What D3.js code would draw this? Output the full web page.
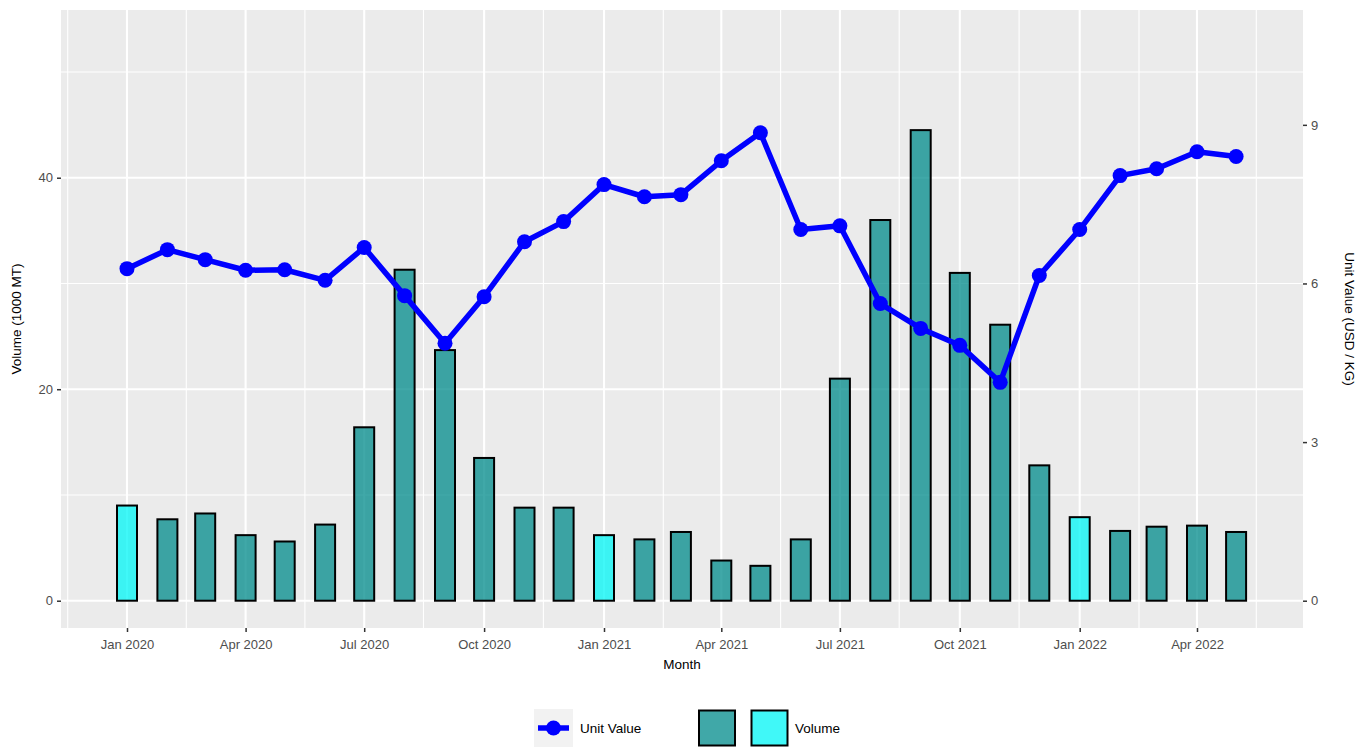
<!DOCTYPE html>
<html><head><meta charset="utf-8">
<script src="https://cdn.jsdelivr.net/npm/d3@7"></script>
<style>body{margin:0;background:#fff;font-family:"Liberation Sans",Arial,sans-serif;}</style>
</head><body>
<svg id="chart" width="1369" height="747"></svg>
<script>
const months = ["2020-01","2020-02","2020-03","2020-04","2020-05","2020-06","2020-07","2020-08","2020-09","2020-10","2020-11","2020-12",
"2021-01","2021-02","2021-03","2021-04","2021-05","2021-06","2021-07","2021-08","2021-09","2021-10","2021-11","2021-12",
"2022-01","2022-02","2022-03","2022-04","2022-05"];
const volume = [9.0,7.7,8.25,6.2,5.6,7.2,16.4,31.3,23.7,13.5,8.8,8.8,
6.2,5.8,6.5,3.8,3.3,5.8,21.0,36.0,44.5,31.0,26.1,12.8,
7.9,6.6,7.0,7.1,6.5];
const unitValue = [6.28,6.64,6.45,6.25,6.26,6.06,6.68,5.77,4.87,5.75,6.79,7.17,
7.87,7.64,7.68,8.32,8.85,7.02,7.09,5.62,5.15,4.83,4.13,6.15,
7.02,8.04,8.17,8.49,8.40];
const highlightMonths = ["2020-01","2021-01","2022-01"];
const leftTicks = [0,20,40];
const rightTicks = [0,3,6,9];
const secFactor = 5;

const svg = d3.select("#chart");
const P = {l:61, r:1303, t:10, b:628};
const parse = d3.utcParse("%Y-%m");
const dates = months.map(parse);
const FS = "13px";
const FF = "Liberation Sans, Arial, sans-serif";

const x0 = d3.scaleUtc().domain([parse("2020-01"), parse("2022-04")]).range([127,1197]);
const x = d3.scaleUtc().domain([x0.invert(P.l), x0.invert(P.r)]).range([P.l,P.r]);
const y = d3.scaleLinear().domain([-2.58, 55.86]).range([P.b, P.t]);
const y2 = d3.scaleLinear().domain([-2.58/secFactor, 55.86/secFactor]).range([P.b, P.t]);

svg.append("rect").attr("x",P.l).attr("y",P.t).attr("width",P.r-P.l).attr("height",P.b-P.t).attr("fill","#EBEBEB");

const g = svg.append("g");
const majors = d3.utcMonth.every(3).range(parse("2020-01"), parse("2022-05"));
const majorPx = majors.map(d=>x(d));
const step = majorPx[1]-majorPx[0];
const minorPx = [majorPx[0]-step/2, ...majorPx.map(p=>p+step/2)].filter(p=>p>P.l && p<P.r);
[10,30,50].forEach(v=>g.append("line").attr("x1",P.l).attr("x2",P.r).attr("y1",y(v)).attr("y2",y(v)).attr("stroke","#fff").attr("stroke-width",1.1));
minorPx.forEach(p=>g.append("line").attr("x1",p).attr("x2",p).attr("y1",P.t).attr("y2",P.b).attr("stroke","#fff").attr("stroke-width",1.1));
leftTicks.forEach(v=>g.append("line").attr("x1",P.l).attr("x2",P.r).attr("y1",y(v)).attr("y2",y(v)).attr("stroke","#fff").attr("stroke-width",2.1));
majorPx.forEach(p=>g.append("line").attr("x1",p).attr("x2",p).attr("y1",P.t).attr("y2",P.b).attr("stroke","#fff").attr("stroke-width",2.1));

const halfW = 10;
svg.append("g").selectAll("rect").data(dates).join("rect")
  .attr("x",(d)=>x(d)-halfW)
  .attr("width",halfW*2)
  .attr("y",(d,i)=>y(volume[i]))
  .attr("height",(d,i)=>y(0)-y(volume[i]))
  .attr("fill",(d,i)=>highlightMonths.includes(months[i]) ? "rgba(0,245,245,0.75)" : "rgba(0,139,139,0.75)")
  .attr("stroke","#000").attr("stroke-width",2);

const line = d3.line().x((d,i)=>x(dates[i])).y(d=>y2(d));
svg.append("path").datum(unitValue).attr("d",line).attr("fill","none").attr("stroke","#0000FF").attr("stroke-width",5.5).attr("stroke-linejoin","round");
svg.append("g").selectAll("circle").data(unitValue).join("circle")
  .attr("cx",(d,i)=>x(dates[i])).attr("cy",d=>y2(d)).attr("r",7.5).attr("fill","#0000FF");

const fmt = d3.utcFormat("%b %Y");
const xa = svg.append("g").attr("transform",`translate(0,${P.b})`)
  .call(d3.axisBottom(x).tickValues(majors).tickFormat(fmt).tickSize(4).tickPadding(8));
const ya = svg.append("g").attr("transform",`translate(${P.l},0)`)
  .call(d3.axisLeft(y).tickValues(leftTicks).tickSize(4).tickPadding(4));
const y2a = svg.append("g").attr("transform",`translate(${P.r},0)`)
  .call(d3.axisRight(y2).tickValues(rightTicks).tickSize(4).tickPadding(4));
[xa,ya,y2a].forEach(a=>{
  a.attr("font-size",null).attr("font-family",null);
  a.select(".domain").remove();
  a.selectAll(".tick line").attr("stroke","#333").attr("stroke-width",1.5);
  a.selectAll(".tick text").attr("fill","#4D4D4D").style("font-size",FS).style("font-family",FF);
});

svg.append("text").attr("x",(P.l+P.r)/2).attr("y",669).attr("text-anchor","middle").style("font-size","13.5px").style("font-family",FF).attr("fill","#000").text("Month");
svg.append("text").attr("transform",`translate(21,${(P.t+P.b)/2}) rotate(-90)`).attr("text-anchor","middle").style("font-size","13.5px").style("font-family",FF).text("Volume (1000 MT)");
svg.append("text").attr("transform",`translate(1345,${(P.t+P.b)/2}) rotate(90)`).attr("text-anchor","middle").style("font-size","13.5px").style("font-family",FF).text("Unit Value (USD / KG)");

const lg = svg.append("g");
lg.append("rect").attr("x",534).attr("y",709).attr("width",39).attr("height",38).attr("fill","#F2F2F2");
lg.append("line").attr("x1",538).attr("x2",569).attr("y1",728).attr("y2",728).attr("stroke","#0000FF").attr("stroke-width",5.5);
lg.append("circle").attr("cx",553.5).attr("cy",728).attr("r",7.5).attr("fill","#0000FF");
lg.append("text").attr("x",580).attr("y",733).style("font-size","13.5px").style("font-family",FF).text("Unit Value");
lg.append("rect").attr("x",699).attr("y",710.5).attr("width",36).attr("height",35).attr("fill","rgba(0,139,139,0.75)").attr("stroke","#000").attr("stroke-width",2);
lg.append("rect").attr("x",751.5).attr("y",710.5).attr("width",36).attr("height",35).attr("fill","rgba(0,245,245,0.75)").attr("stroke","#000").attr("stroke-width",2);
lg.append("text").attr("x",795).attr("y",733).style("font-size","13.5px").style("font-family",FF).text("Volume");
</script>
</body></html>
